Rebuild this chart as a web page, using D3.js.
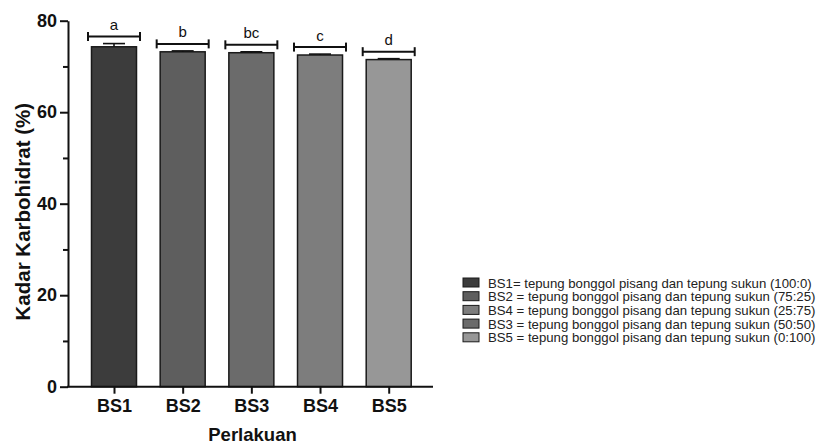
<!DOCTYPE html>
<html>
<head>
<meta charset="utf-8">
<script src="https://cdn.jsdelivr.net/npm/d3@7"></script>
<style>
  html, body { margin: 0; padding: 0; background: #fff; }
  svg { display: block; font-family: "Liberation Sans", Arial, Helvetica, sans-serif; }
</style>
</head>
<body>
<svg id="chart" width="829" height="445"></svg>
<script>
const categories = ["BS1", "BS2", "BS3", "BS4", "BS5"];
const means = [74.3, 73.2, 73.0, 72.5, 71.5];
const sds = [0.7, 0.2, 0.2, 0.2, 0.2];
const letters = ["a", "b", "bc", "c", "d"];
const barColors = ["#3c3c3c", "#5e5e5e", "#6b6b6b", "#7d7d7d", "#979797"];
const yTicks = [0, 20, 40, 60, 80];
const yMinorTicks = [10, 30, 50, 70];
const legendKeys = ["BS1", "BS2", "BS4", "BS3", "BS5"];
const legendLabels = [
  "BS1= tepung bonggol pisang dan tepung sukun (100:0)",
  "BS2 = tepung bonggol pisang dan tepung sukun (75:25)",
  "BS4 = tepung bonggol pisang dan tepung sukun (25:75)",
  "BS3 = tepung bonggol pisang dan tepung sukun (50:50)",
  "BS5 = tepung bonggol pisang dan tepung sukun (0:100)"
];
const yTitle = "Kadar Karbohidrat (%)";
const xTitle = "Perlakuan";

const svg = d3.select("#chart");
const axisX0 = 68, axisX1 = 433;
const y = d3.scaleLinear().domain([0, 80]).range([386.7, 20.7]);
const x = d3.scalePoint().domain(categories).range([114, 388.7]);
const barW = 45;
const color = d3.scaleOrdinal().domain(categories).range(barColors);
const ink = "#111";
const ff = "Liberation Sans, Arial, sans-serif";

// bars
svg.append("g").selectAll("rect").data(categories).join("rect")
  .attr("x", d => x(d) - barW / 2)
  .attr("y", (d, i) => y(means[i]))
  .attr("width", barW)
  .attr("height", (d, i) => y(0) - y(means[i]))
  .attr("fill", d => color(d))
  .attr("stroke", "#1a1a1a")
  .attr("stroke-width", 1.5);

// error bars
const eb = svg.append("g").attr("stroke", ink).attr("stroke-width", 1.6);
categories.forEach((c, i) => {
  const cx = x(c);
  eb.append("line").attr("x1", cx).attr("x2", cx)
    .attr("y1", y(means[i])).attr("y2", y(means[i] + sds[i]));
  eb.append("line").attr("x1", cx - 11).attr("x2", cx + 11)
    .attr("y1", y(means[i] + sds[i])).attr("y2", y(means[i] + sds[i]));
});

// significance brackets
const br = svg.append("g");
categories.forEach((c, i) => {
  const cx = x(c);
  const by = y(means[i] + sds[i]) - 7;
  const g = br.append("g").attr("stroke", ink).attr("stroke-width", 2);
  g.append("line").attr("x1", cx - 26).attr("x2", cx + 26).attr("y1", by).attr("y2", by);
  g.append("line").attr("x1", cx - 26).attr("x2", cx - 26).attr("y1", by - 4.5).attr("y2", by + 4.5);
  g.append("line").attr("x1", cx + 26).attr("x2", cx + 26).attr("y1", by - 4.5).attr("y2", by + 4.5);
  br.append("text").attr("x", cx).attr("y", by - 6.5)
    .attr("text-anchor", "middle").attr("font-size", 15).attr("fill", ink)
    .attr("font-family", ff).text(letters[i]);
});

// y axis
const yAxis = d3.axisLeft(y).tickValues(yTicks).tickSize(8).tickSizeOuter(0).tickPadding(3);
const gy = svg.append("g").attr("transform", `translate(${axisX0},0)`).call(yAxis);
gy.select(".domain").attr("stroke", ink).attr("stroke-width", 2);
gy.selectAll(".tick line").attr("stroke", ink).attr("stroke-width", 2);
gy.selectAll(".tick text").attr("font-size", 18).attr("font-weight", "bold")
  .attr("fill", ink).attr("font-family", ff);
const yMinor = d3.axisLeft(y).tickValues(yMinorTicks).tickSize(5).tickSizeOuter(0).tickFormat("");
const gym = svg.append("g").attr("transform", `translate(${axisX0},0)`).call(yMinor);
gym.select(".domain").remove();
gym.selectAll(".tick line").attr("stroke", ink).attr("stroke-width", 2);

// x axis
const xAxis = d3.axisBottom(x).tickSize(7).tickSizeOuter(0).tickPadding(6);
const gx = svg.append("g").attr("transform", `translate(0,${y(0)})`).call(xAxis);
gx.select(".domain").attr("d", `M${axisX0 - 1},0H${axisX1}`).attr("stroke", ink).attr("stroke-width", 2);
gx.selectAll(".tick line").attr("stroke", ink).attr("stroke-width", 2);
gx.selectAll(".tick text").attr("font-size", 18).attr("font-weight", "bold")
  .attr("fill", ink).attr("font-family", ff);

// axis titles
svg.append("text").attr("x", (axisX0 + axisX1) / 2 + 2).attr("y", 441)
  .attr("text-anchor", "middle").attr("font-size", 18.5).attr("font-weight", "bold")
  .attr("fill", ink).attr("font-family", ff).text(xTitle);
svg.append("text")
  .attr("transform", `translate(30,${(y(0) + y(80)) / 2 + 8}) rotate(-90)`)
  .attr("text-anchor", "middle").attr("font-size", 20.5).attr("font-weight", "bold")
  .attr("fill", ink).attr("font-family", ff).text(yTitle);

// legend
const lg = svg.append("g").attr("transform", "translate(463,278)");
legendKeys.forEach((k, i) => {
  const row = lg.append("g").attr("transform", `translate(0,${i * 13.7})`);
  row.append("rect").attr("x", 0).attr("y", 0).attr("width", 16).attr("height", 9)
    .attr("fill", color(k)).attr("stroke", "#1a1a1a").attr("stroke-width", 1);
  row.append("text").attr("x", 25).attr("y", 9.5).attr("font-size", 13.2).attr("fill", "#222")
    .attr("font-family", ff).text(legendLabels[i]);
});
</script>
</body>
</html>
